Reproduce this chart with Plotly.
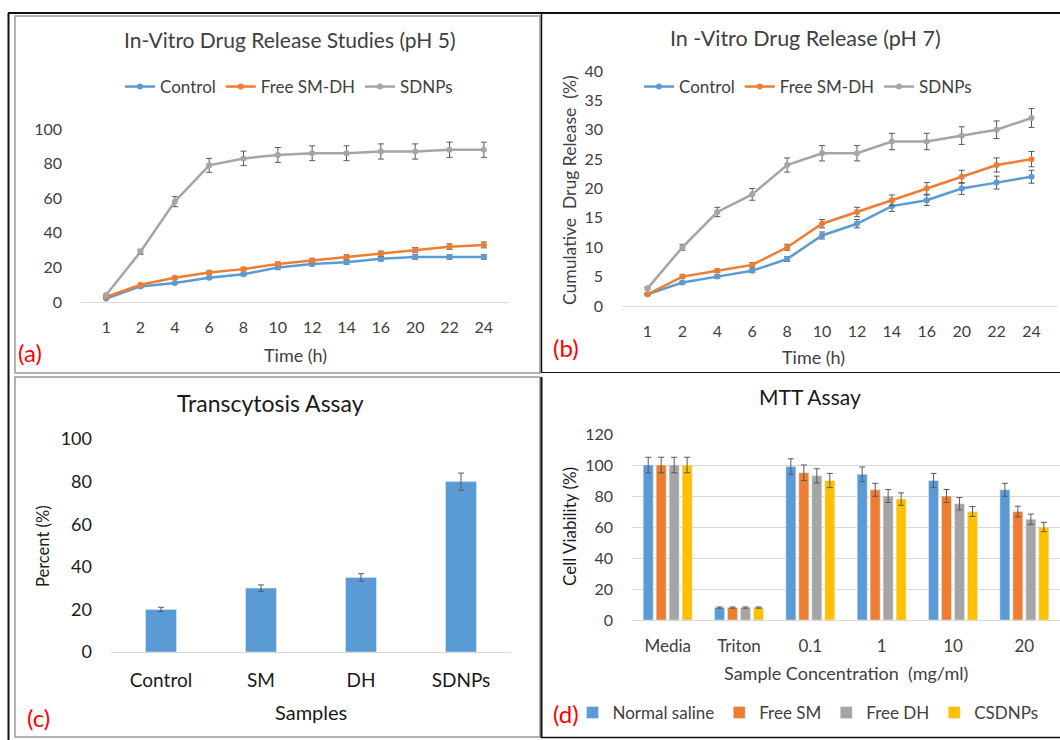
import plotly.graph_objects as go

W, H = 1060, 740

# ---------------- data ----------------
time_labels = ["1", "2", "4", "6", "8", "10", "12", "14", "16", "20", "22", "24"]

ph5_control = [2, 9, 11, 14, 16, 20, 22, 23, 25, 26, 26, 26]
ph5_control_err = [0.3, 0.5, 0.6, 0.7, 0.8, 1.0, 1.1, 1.2, 1.3, 1.3, 1.3, 1.3]
ph5_free = [3, 10, 14, 17, 19, 22, 24, 26, 28, 30, 32, 33]
ph5_free_err = [0.2, 0.5, 0.7, 0.9, 1.0, 1.1, 1.2, 1.3, 1.4, 1.5, 1.6, 1.7]
ph5_sdnps = [4, 29, 58, 79, 83, 85, 86, 86, 87, 87, 88, 88]
ph5_sdnps_err = [0.2, 1.5, 2.9, 4.0, 4.2, 4.3, 4.3, 4.3, 4.4, 4.4, 4.4, 4.4]

ph7_control = [2, 4, 5, 6, 8, 12, 14, 17, 18, 20, 21, 22]
ph7_control_err = [0.1, 0.2, 0.3, 0.3, 0.4, 0.6, 0.7, 0.9, 0.9, 1.0, 1.1, 1.1]
ph7_free = [2, 5, 6, 7, 10, 14, 16, 18, 20, 22, 24, 25]
ph7_free_err = [0.1, 0.3, 0.3, 0.4, 0.5, 0.7, 0.8, 0.9, 1.0, 1.1, 1.2, 1.3]
ph7_sdnps = [3, 10, 16, 19, 24, 26, 26, 28, 28, 29, 30, 32]
ph7_sdnps_err = [0.2, 0.5, 0.8, 1.0, 1.2, 1.3, 1.3, 1.4, 1.4, 1.5, 1.5, 1.6]

trans_samples = ["Control", "SM", "DH", "SDNPs"]
trans_values = [20, 30, 35, 80]
trans_err = [1.0, 1.5, 1.75, 4.0]

mtt_conc = ["Media", "Triton", "0.1", "1", "10", "20"]
mtt_saline = [100, 8, 99, 94, 90, 84]
mtt_saline_err = [5, 0.4, 5, 4.7, 4.6, 4.2]
mtt_free_sm = [100, 8, 95, 84, 80, 70]
mtt_free_sm_err = [5, 0.4, 5, 4.2, 4.2, 3.4]
mtt_free_dh = [100, 8, 93, 80, 75, 65]
mtt_free_dh_err = [5, 0.4, 4.6, 4.2, 4.0, 3.3]
mtt_csdnps = [100, 8, 90, 78, 70, 60]
mtt_csdnps_err = [5, 0.4, 4.6, 4.0, 3.2, 3.0]

# ---------------- style ----------------
BLUE, ORANGE, GRAY, YELLOW = "#5B9BD5", "#ED7D31", "#A5A5A5", "#FFC000"
FONT = "Lato"
TXT = "#404040"
DARK = "#1a1a1a"
ERRC = "#595959"
NB = "\u00a0"


def px(x):
    return x / W


def py(y):
    return 1 - y / H


fig = go.Figure()


def line_trace(y, err, name, color, xa, ya, legend, show=True):
    return go.Scatter(
        x=time_labels, y=y, name=name, mode="lines+markers",
        line=dict(color=color, width=2.5),
        marker=dict(color=color, size=6),
        error_y=dict(type="data", array=err, color=ERRC, thickness=1, width=3),
        xaxis=xa, yaxis=ya, legend=legend, showlegend=show, cliponaxis=False,
    )


# (a)
fig.add_trace(line_trace(ph5_control, ph5_control_err, "Control", BLUE, "x", "y", "legend"))
fig.add_trace(line_trace(ph5_free, ph5_free_err, "Free SM-DH", ORANGE, "x", "y", "legend"))
fig.add_trace(line_trace(ph5_sdnps, ph5_sdnps_err, "SDNPs", GRAY, "x", "y", "legend"))
# (b)
fig.add_trace(line_trace(ph7_control, ph7_control_err, "Control", BLUE, "x2", "y2", "legend2"))
fig.add_trace(line_trace(ph7_free, ph7_free_err, "Free SM-DH", ORANGE, "x2", "y2", "legend2"))
fig.add_trace(line_trace(ph7_sdnps, ph7_sdnps_err, "SDNPs", GRAY, "x2", "y2", "legend2"))
# (c)
fig.add_trace(go.Bar(
    x=trans_samples, y=trans_values, width=0.31, marker=dict(color=BLUE),
    error_y=dict(type="data", array=trans_err, color=ERRC, thickness=1, width=3),
    xaxis="x3", yaxis="y3", showlegend=False,
))
# (d)
bw = 0.14
offsets = [-0.343, -0.161, 0.021, 0.203]
for vals, err, name, color, off in [
    (mtt_saline, mtt_saline_err, "Normal saline", BLUE, offsets[0]),
    (mtt_free_sm, mtt_free_sm_err, "Free SM", ORANGE, offsets[1]),
    (mtt_free_dh, mtt_free_dh_err, "Free DH", GRAY, offsets[2]),
    (mtt_csdnps, mtt_csdnps_err, "CSDNPs", YELLOW, offsets[3]),
]:
    fig.add_trace(go.Bar(
        x=mtt_conc, y=vals, name=name, width=bw, offset=off,
        marker=dict(color=color),
        error_y=dict(type="data", array=err, color=ERRC, thickness=1, width=3),
        xaxis="x4", yaxis="y4", legend="legend3",
    ))


def xax(domain, anchor, size, color, standoff=11):
    return dict(domain=domain, anchor=anchor, type="category", showline=True,
                linecolor="#D9D9D9", linewidth=1, showgrid=False, zeroline=False,
                ticks="", ticklabelstandoff=standoff, automargin=False,
                tickfont=dict(family=FONT, size=size, color=color), fixedrange=True)


def yax(domain, anchor, rng, dtick, size, color, grid=False):
    return dict(domain=domain, anchor=anchor, range=rng, dtick=dtick, showline=False,
                showgrid=grid, gridcolor="#D9D9D9", gridwidth=1, zeroline=False,
                ticks="", ticklabelstandoff=18, automargin=False,
                tickfont=dict(family=FONT, size=size, color=color), fixedrange=True)


layout = dict(
    width=W, height=H, autosize=False,
    margin=dict(l=0, r=0, t=0, b=0, pad=0, autoexpand=False),
    paper_bgcolor="white", plot_bgcolor="rgba(0,0,0,0)",
    barmode="overlay",
    font=dict(family=FONT, color=TXT),
    xaxis=xax([px(81), px(509)], "y", 16, TXT),
    yaxis=yax([py(302), py(129)], "x", [0, 100], 20, 16, TXT),
    xaxis2=xax([px(622), px(1057)], "y2", 16, TXT),
    yaxis2=yax([py(306), py(71)], "x2", [0, 40], 5, 16, TXT),
    xaxis3=xax([px(111), px(511)], "y3", 19, DARK),
    yaxis3=yax([py(652), py(439)], "x3", [0, 100], 20, 18, DARK),
    xaxis4=xax([px(632), px(1060)], "y4", 17, TXT),
    yaxis4=yax([py(620), py(434)], "x4", [0, 120], 20, 16, TXT, grid=True),
    legend=dict(orientation="h", x=px(289), y=py(87), xanchor="center", yanchor="middle",
                font=dict(family=FONT, size=17, color=TXT), bgcolor="rgba(0,0,0,0)",
                itemwidth=30),
    legend2=dict(orientation="h", x=px(808), y=py(87), xanchor="center", yanchor="middle",
                 font=dict(family=FONT, size=17, color=TXT), bgcolor="rgba(0,0,0,0)",
                 itemwidth=30),
    legend3=dict(orientation="h", x=px(808), y=py(713), xanchor="center", yanchor="middle",
                 font=dict(family=FONT, size=17, color=TXT), bgcolor="rgba(0,0,0,0)",
                 itemwidth=30),
)
fig.update_layout(**layout)


def ann(text, x, y, size, color=TXT, xanchor="center", angle=0):
    fig.add_annotation(text=text, x=px(x), y=py(y), xref="paper", yref="paper",
                       xanchor=xanchor, yanchor="middle", showarrow=False, textangle=angle,
                       font=dict(family=FONT, size=size, color=color))


ann("In-Vitro Drug Release Studies (pH 5)", 289, 39, 21)
ann("Time (h)", 295, 355, 18)
ann("(a)", 16, 352, 24, "#FF0000", "left")

ann("In -Vitro Drug Release (pH 7)", 805, 38, 21.5)
ann(f"Cumulative{NB}{NB}Drug Release{NB}{NB}(%)", 569, 190, 17.5, angle=-90)
ann("Time (h)", 813, 357, 18)
ann("(b)", 551, 347, 24, "#FF0000", "left")

ann("Transcytosis Assay", 270, 403, 23, DARK)
ann("Percent (%)", 43, 546, 16.5, DARK, angle=-90)
ann("Samples", 311, 712, 20, DARK)
ann("(c)", 25, 717, 24, "#FF0000", "left")

ann("MTT Assay", 810, 397, 21, DARK)
ann("Cell Viability (%)", 569, 527, 17, DARK, angle=-90)
ann(f"Sample Concentration{NB}{NB}(mg/ml)", 846, 673, 18)
ann("(d)", 551, 713, 24, "#FF0000", "left")


def seg(x0, y0, x1, y1, color, width):
    fig.add_shape(type="line", xref="paper", yref="paper",
                  x0=px(x0), y0=py(y0), x1=px(x1), y1=py(y1),
                  line=dict(color=color, width=width))


def rect(x0, y0, x1, y1, color, width):
    fig.add_shape(type="rect", xref="paper", yref="paper",
                  x0=px(x0), y0=py(y0), x1=px(x1), y1=py(y1),
                  line=dict(color=color, width=width), fillcolor="rgba(0,0,0,0)")


# frames
seg(8.5, 13, 8.5, 740, "#111111", 2)
seg(8, 13, 1060, 13, "#111111", 2)
rect(15, 16, 540, 373, "#9a9a9a", 1.5)
rect(15, 377, 540, 737, "#9a9a9a", 1.5)
seg(541.5, 13, 541.5, 373, "#111111", 1.5)
seg(541, 372.5, 1060, 372.5, "#111111", 1)
seg(541.5, 377, 541.5, 738, "#111111", 2)
seg(541, 737.5, 1060, 737.5, "#111111", 1.5)

post = (
    "document.documentElement.style.margin='0';"
    "document.body.style.margin='0';document.body.style.padding='0';"
    "document.body.style.overflow='hidden';"
    "var gd=document.getElementById('{plot_id}');"
    "gd.style.position='absolute';gd.style.left='0px';gd.style.top='0px';"
)
fig.write_html("out.html", post_script=post, config={"displayModeBar": False})
